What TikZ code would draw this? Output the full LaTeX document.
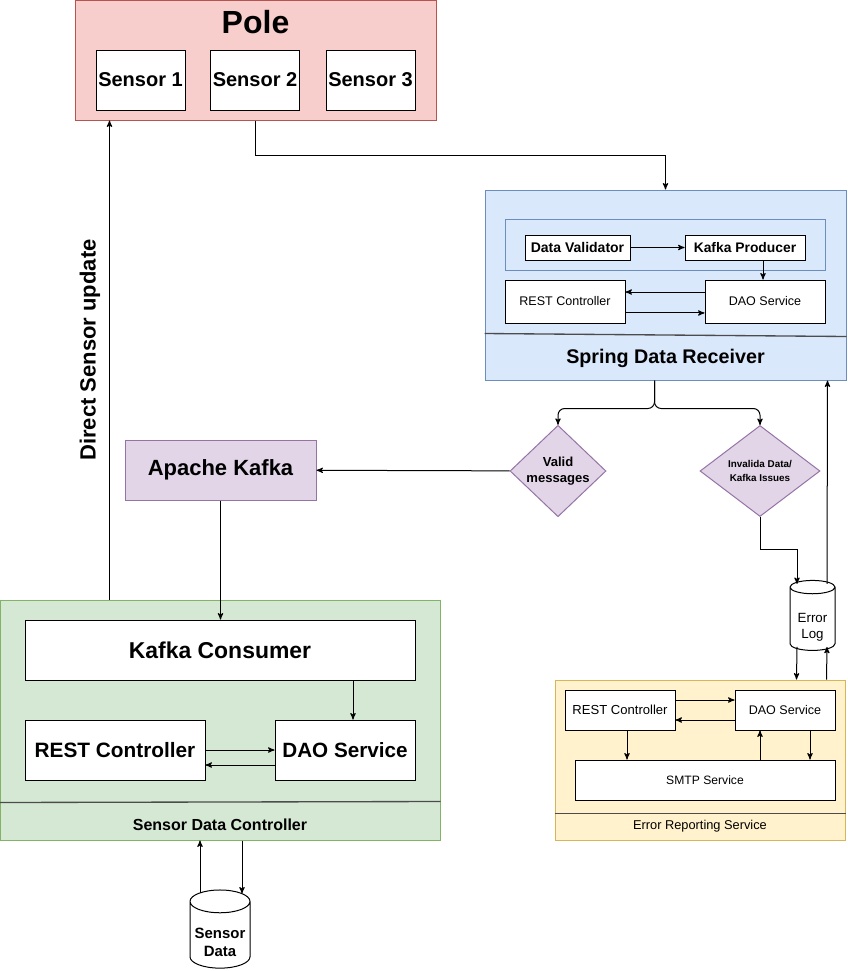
\documentclass[tikz,border=0pt]{standalone}
\usepackage{fontspec}
\setmainfont{Liberation Sans}
\usetikzlibrary{arrows, shapes, positioning, calc}

\definecolor{polefill}{HTML}{F8CECC}
\definecolor{poleline}{HTML}{B85450}
\definecolor{springfill}{HTML}{DAE8FC}
\definecolor{springline}{HTML}{6C8EBF}
\definecolor{kafkafill}{HTML}{E1D5E7}
\definecolor{kafkaline}{HTML}{9673A6}
\definecolor{ctrlfill}{HTML}{D5E8D4}
\definecolor{ctrlline}{HTML}{82B366}
\definecolor{errfill}{HTML}{FFF2CC}
\definecolor{errline}{HTML}{D6B656}

\tikzset{
  comp/.style={draw, fill=white, align=center, inner sep=0pt, line width=0.75pt},
  lane/.style={draw, inner sep=0pt, line width=0.75pt},
  decision/.style={diamond, draw=kafkaline, fill=kafkafill, align=center, inner sep=0pt, line width=0.75pt},
  store/.style={cylinder, shape border rotate=90, aspect=0.45, draw, fill=white, align=center, inner sep=0pt, line width=0.75pt},
  divider/.style={draw=black!70, line width=1pt}
}
\newcommand{\lowtext}{\rule{0pt}{19pt}}

\begin{document}
\begin{tikzpicture}[x=0.75pt, y=-0.75pt, ->, >=stealth', line width=0.75pt]
	\useasboundingbox (0,0) rectangle (848,971);

	% containers
	\node[lane, draw=poleline, fill=polefill, minimum width=270.75pt, minimum height=90pt] (pole) at (255.5,60) {};
	\node[lane, draw=springline, fill=springfill, minimum width=270.75pt, minimum height=142.5pt] (spring) at (665.5,285) {};
	\node[lane, draw=ctrlline, fill=ctrlfill, minimum width=330pt, minimum height=180pt] (sdc) at (220,720) {};
	\node[lane, draw=errline, fill=errfill, minimum width=217.5pt, minimum height=120pt] (ers) at (700,760) {};

	% titles
	\node[font=\bfseries\fontsize{24}{26}\selectfont] (poletitle) at (255.5,22) {Pole};
	\node[font=\bfseries\fontsize{14.8}{17}\selectfont] (springtitle) at (665.5,358) {Spring Data Receiver};
	\node[font=\bfseries\fontsize{12}{14}\selectfont] (sdctitle) at (220,825) {Sensor Data Controller};
	\node[font=\fontsize{9.6}{11}\selectfont] (erstitle) at (700,826) {Error Reporting Service};
	\node[font=\bfseries\fontsize{16.5}{19}\selectfont, rotate=90] (dsu) at (90,350) {Direct Sensor update};

	\draw[-, divider] ($(spring.south west)+(0,-47)$) -- ($(spring.south east)+(0,-44)$);
	\draw[-, divider] ($(sdc.south west)+(0,-38)$) -- ($(sdc.south east)+(0,-39)$);
	\draw[-, divider] ($(ers.south west)+(0,-27)$) -- ($(ers.south east)+(0,-27)$);

	% pole
	\node[comp, font=\bfseries\fontsize{15}{17}\selectfont, minimum width=66.75pt, minimum height=45pt] (s1) at (140.5,80) {Sensor 1};
	\node[comp, font=\bfseries\fontsize{15}{17}\selectfont, minimum width=66.75pt, minimum height=45pt] (s2) at (255,80) {Sensor 2};
	\node[comp, font=\bfseries\fontsize{15}{17}\selectfont, minimum width=66.75pt, minimum height=45pt] (s3) at (370.5,80) {Sensor 3};

	% spring data receiver
	\node[lane, draw=springline, fill=springfill, minimum width=240pt, minimum height=38.25pt] (validbox) at (665,244.5) {};
	\node[comp, font=\bfseries\fontsize{10.5}{12}\selectfont, minimum width=78.75pt, minimum height=18.75pt] (dv) at (577.5,247.5) {Data Validator};
	\node[comp, font=\bfseries\fontsize{10.4}{12}\selectfont, minimum width=90pt, minimum height=18.75pt] (kp) at (745,247.5) {Kafka Producer};
	\node[comp, font=\fontsize{9.4}{11}\selectfont, minimum width=90pt, minimum height=32.25pt] (rests) at (565,301.5) {REST Controller};
	\node[comp, font=\fontsize{9.4}{11}\selectfont, minimum width=90pt, minimum height=32.25pt] (daos) at (765,301.5) {DAO Service};

	% decisions
	\node[decision, font=\bfseries\fontsize{9.8}{12}\selectfont, minimum width=72pt, minimum height=68.25pt] (valid) at (558,471) {Valid\\messages};
	\node[decision, font=\bfseries\fontsize{7.4}{10}\selectfont, minimum width=90pt, minimum height=68.25pt] (inval) at (760,471) {Invalida Data/\\Kafka Issues};
	\node[lane, draw=kafkaline, fill=kafkafill, font=\bfseries\fontsize{16.5}{19}\selectfont, minimum width=143.25pt, minimum height=45pt] (kafka) at (220.5,470) {Apache Kafka};

	% sensor data controller
	\node[comp, font=\bfseries\fontsize{17.2}{20}\selectfont, minimum width=292.5pt, minimum height=45pt] (kc) at (220,650) {Kafka Consumer};
	\node[comp, font=\bfseries\fontsize{15.6}{18}\selectfont, minimum width=135pt, minimum height=45pt] (restc) at (115,750) {REST Controller};
	\node[comp, font=\bfseries\fontsize{15.5}{18}\selectfont, minimum width=105pt, minimum height=45pt] (daoc) at (345,750) {DAO Service};
	\node[store, font=\bfseries\fontsize{11.2}{13.5}\selectfont, minimum width=45pt, minimum height=58.5pt] (sdata) at (220,935) {\lowtext Sensor\\Data};

	% error reporting
	\node[store, font=\fontsize{10}{12}\selectfont, minimum width=33.75pt, minimum height=52.5pt] (elog) at (812.5,619) {\lowtext Error\\Log};
	\node[comp, font=\fontsize{9.8}{11}\selectfont, minimum width=82.5pt, minimum height=30pt] (reste) at (620,710) {REST Controller};
	\node[comp, font=\fontsize{9.4}{11}\selectfont, minimum width=75pt, minimum height=30pt] (daoe) at (785,710) {DAO Service};
	\node[comp, font=\fontsize{9.1}{11}\selectfont, minimum width=195pt, minimum height=30pt] (smtp) at (705,780) {SMTP Service};

	% connectors
	\draw (pole.south -| s2) -- ++(0,35) -| (spring.north);
	\draw ($(sdc.north west)+(110,0)$) -- ($(pole.south west)+(35,0)$);
	\draw (dv) -- (kp);
	\draw ([xshift=13.5pt]kp.south) -- ([xshift=13.5pt]kp.south |- daos.north);
	\draw ([yshift=7.1pt]daos.west) -- ([yshift=7.1pt]rests.west -| rests.east);
	\draw ([yshift=-8.6pt]rests.east) -- ([yshift=-8.6pt]rests.east -| daos.west);
	\draw[rounded corners=5pt] ($(spring.south west)+(170,0)$) -- ++(0,28) -| (valid.north);
	\draw[rounded corners=5pt] ($(spring.south west)+(170,0)$) -- ++(0,28) -| (inval.north);
	\draw (valid) -- (kafka);
	\draw (kafka.south) -- (kafka.south |- kc.north);
	\draw (inval.south) -- ++(0,32) -| ($(elog.north)+(-15.5,4)$);
	\draw ($(elog.north)+(14.5,4)$) -- ($(spring.south east)+(-19,0)$);
	\draw ($(elog.south)+(-15.5,-4)$) -- ($(ers.north west)+(242,0)$);
	\draw ($(ers.north west)+(272,0)$) -- ($(elog.south)+(14.5,-4)$);
	\draw ([yshift=7.5pt]reste.east) -- ([yshift=7.5pt]reste.east -| daoe.west);
	\draw ([yshift=-7.5pt]daoe.west) -- ([yshift=-7.5pt]daoe.west -| reste.east);
	\draw ([xshift=5.25pt]reste.south) -- ([xshift=5.25pt]reste.south |- smtp.north);
	\draw ([xshift=-18.75pt]daoe.south |- smtp.north) -- ([xshift=-18.75pt]daoe.south);
	\draw ([xshift=18.75pt]daoe.south) -- ([xshift=18.75pt]daoe.south |- smtp.north);
	\draw ([xshift=6pt]daoc.north |- kc.south) -- ([xshift=6pt]daoc.north);
	\draw (restc) -- (daoc);
	\draw ([yshift=-11.25pt]daoc.west) -- ([yshift=-11.25pt]daoc.west -| restc.east);
	\draw ([xshift=-15pt,yshift=-3pt]sdata.north) -- ([xshift=-15pt]sdata.north |- sdc.south);
	\draw ([xshift=16.5pt]sdata.north |- sdc.south) -- ([xshift=16.5pt,yshift=-3pt]sdata.north);
\end{tikzpicture}
\end{document}
